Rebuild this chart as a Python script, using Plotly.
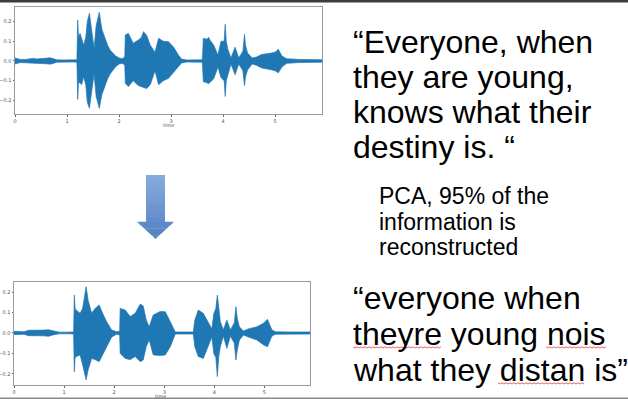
import plotly.graph_objects as go

W, H = 628, 400

# ---- Data: waveform envelopes (time in s, amplitude) ----
orig_t = [0.0, 0.05, 0.1, 0.2, 0.29, 0.35, 0.42, 0.5, 0.6, 0.67, 0.74, 0.8, 0.9, 1.0, 1.1, 1.19,
          1.205, 1.22, 1.25, 1.28, 1.32, 1.36, 1.39, 1.43, 1.47, 1.52, 1.56, 1.6, 1.62, 1.67, 1.73,
          1.78, 1.83, 1.93, 2.0, 2.06, 2.11, 2.12, 2.18, 2.27, 2.37, 2.43, 2.47, 2.53, 2.6, 2.69,
          2.76, 2.85, 2.95, 3.05, 3.14, 3.2, 3.3, 3.45, 3.6, 3.62, 3.69, 3.72, 3.75, 3.82, 3.9,
          3.96, 4.02, 4.04, 4.06, 4.09, 4.15, 4.23, 4.3, 4.38, 4.41, 4.43, 4.47, 4.56, 4.64, 4.74,
          4.85, 4.93, 5.0, 5.06, 5.13, 5.22, 5.45, 5.7, 5.9]
orig_hi = [0.015, 0.012, 0.008, 0.008, 0.012, 0.013, 0.010, 0.013, 0.014, 0.016, 0.012, 0.006,
           0.005, 0.005, 0.005, 0.006, 0.208, 0.12, 0.14, 0.115, 0.08, 0.12, 0.20, 0.242, 0.15,
           0.063, 0.18, 0.23, 0.247, 0.16, 0.115, 0.08, 0.055, 0.026, 0.015, 0.012, 0.02, 0.132,
           0.14, 0.09, 0.106, 0.12, 0.149, 0.13, 0.08, 0.045, 0.115, 0.10, 0.098, 0.07, 0.03, 0.01,
           0.005, 0.005, 0.006, 0.115, 0.11, 0.12, 0.105, 0.08, 0.03, 0.10, 0.10, 0.186, 0.10,
           0.06, 0.015, 0.07, 0.015, 0.05, 0.135, 0.08, 0.04, 0.015, 0.02, 0.033, 0.035, 0.04,
           0.045, 0.06, 0.025, 0.012, 0.008, 0.006, 0.006]
orig_lo = [-0.015, -0.012, -0.008, -0.008, -0.012, -0.013, -0.010, -0.013, -0.014, -0.016, -0.012,
           -0.006, -0.005, -0.005, -0.005, -0.006, -0.195, -0.11, -0.11, -0.12, -0.08, -0.12,
           -0.21, -0.24, -0.15, -0.065, -0.18, -0.22, -0.24, -0.17, -0.13, -0.09, -0.065, -0.03,
           -0.015, -0.012, -0.02, -0.113, -0.13, -0.10, -0.125, -0.13, -0.135, -0.14, -0.12, -0.05,
           -0.12, -0.10, -0.088, -0.06, -0.03, -0.01, -0.005, -0.005, -0.006, -0.105, -0.11,
           -0.115, -0.11, -0.09, -0.03, -0.085, -0.10, -0.18, -0.10, -0.07, -0.015, -0.07, -0.015,
           -0.05, -0.125, -0.08, -0.045, -0.015, -0.022, -0.035, -0.04, -0.045, -0.05, -0.06,
           -0.03, -0.012, -0.008, -0.006, -0.006]

recon_t = [0.0, 0.1, 0.2, 0.29, 0.35, 0.42, 0.49, 0.6, 0.69, 0.8, 0.9, 1.0, 1.1, 1.19, 1.205,
           1.22, 1.25, 1.32, 1.37, 1.44, 1.48, 1.55, 1.62, 1.7, 1.77, 1.85, 1.95, 2.05, 2.11, 2.12,
           2.22, 2.32, 2.42, 2.52, 2.58, 2.64, 2.7, 2.78, 2.92, 3.02, 3.12, 3.22, 3.4, 3.58, 3.61,
           3.68, 3.78, 3.88, 3.95, 3.99, 4.03, 4.06, 4.09, 4.12, 4.18, 4.25, 4.32, 4.4, 4.43, 4.46,
           4.5, 4.58, 4.68, 4.85, 4.98, 5.06, 5.15, 5.22, 5.5, 5.91]
recon_hi = [0.008, 0.008, 0.006, 0.013, 0.013, 0.012, 0.014, 0.014, 0.016, 0.008, 0.004, 0.004,
            0.004, 0.005, 0.185, 0.12, 0.11, 0.096, 0.12, 0.226, 0.16, 0.096, 0.12, 0.137, 0.096,
            0.055, 0.015, 0.006, 0.01, 0.12, 0.112, 0.08, 0.096, 0.141, 0.132, 0.063, 0.03, 0.088,
            0.105, 0.104, 0.055, 0.005, 0.005, 0.005, 0.063, 0.112, 0.096, 0.055, 0.02, 0.096,
            0.12, 0.185, 0.10, 0.055, 0.015, 0.063, 0.015, 0.05, 0.128, 0.07, 0.03, 0.01, 0.02,
            0.03, 0.047, 0.067, 0.015, 0.006, 0.005, 0.005]
recon_lo = [-0.008, -0.008, -0.006, -0.013, -0.013, -0.012, -0.014, -0.014, -0.016, -0.008,
            -0.004, -0.004, -0.004, -0.005, -0.189, -0.12, -0.115, -0.107, -0.155, -0.229, -0.18,
            -0.124, -0.13, -0.14, -0.107, -0.067, -0.02, -0.006, -0.01, -0.10, -0.124, -0.13,
            -0.115, -0.14, -0.132, -0.067, -0.034, -0.107, -0.11, -0.107, -0.067, -0.005, -0.005,
            -0.005, -0.067, -0.115, -0.124, -0.067, -0.02, -0.10, -0.12, -0.213, -0.11, -0.067,
            -0.015, -0.075, -0.015, -0.05, -0.132, -0.08, -0.035, -0.01, -0.02, -0.034, -0.058,
            -0.067, -0.015, -0.006, -0.005, -0.005]

x_tick_vals = [0, 1, 2, 3, 4, 5]
x_tick_text = ["0", "1", "2", "3", "4", "5"]
y_tick_vals = [-0.2, -0.1, 0.0, 0.1, 0.2]
y_tick_text = ["\u22120.2", "\u22120.1", "0.0", "0.1", "0.2"]
x_title = "time"

quote_orig = ["\u201cEveryone, when", "they are young,", "knows what their", "destiny is. \u201c"]
pca_note = ["PCA, 95% of the", "information is", "reconstructed"]
quote_recon = ["\u201ceveryone when", "theyre young nois", "what they distan is\u201d"]

WAVE = "#1f77b4"


def px(x):
    return x / W


def py(y):
    return 1 - y / H


fig = go.Figure()
for t, hi, lo, xa, ya in [(orig_t, orig_hi, orig_lo, "x", "y"),
                          (recon_t, recon_hi, recon_lo, "x2", "y2")]:
    fig.add_trace(go.Scatter(
        x=list(t) + list(t[::-1]), y=list(hi) + list(lo[::-1]),
        fill="toself", fillcolor=WAVE, mode="lines",
        line=dict(color=WAVE, width=0.7), xaxis=xa, yaxis=ya,
        hoverinfo="skip", showlegend=False))

tickfont = dict(family="DejaVu Sans", size=5, color="#555555")
ax_common = dict(showgrid=False, zeroline=False, showline=True, mirror=True,
                 linecolor="#9a9a9a", linewidth=1, ticks="outside", ticklen=1.5,
                 tickcolor="#666666", tickwidth=0.6, tickfont=tickfont, automargin=False)

fig.update_layout(
    width=W, height=H, margin=dict(l=0, r=0, t=0, b=0, pad=0, autoexpand=False),
    paper_bgcolor="white", plot_bgcolor="white", showlegend=False,
    xaxis=dict(domain=[px(15), px(322)], range=[0, 5.9], anchor="y",
               tickvals=x_tick_vals, ticktext=x_tick_text, **ax_common),
    yaxis=dict(domain=[py(114), py(7)], range=[-0.269, 0.274], anchor="x",
               tickvals=y_tick_vals, ticktext=y_tick_text, **ax_common),
    xaxis2=dict(domain=[px(14), px(310)], range=[0, 5.91], anchor="y2",
                tickvals=x_tick_vals, ticktext=x_tick_text, **ax_common),
    yaxis2=dict(domain=[py(385), py(282)], range=[-0.254, 0.249], anchor="x2",
                tickvals=y_tick_vals, ticktext=y_tick_text, **ax_common),
)

# ---- Text blocks ----
annotations = []


def add_lines(lines, x_left, baselines, size):
    for s, b in zip(lines, baselines):
        annotations.append(dict(
            text=s, x=px(x_left), y=py(b - 0.3465 * size), xref="paper", yref="paper",
            xanchor="left", yanchor="middle", showarrow=False, borderpad=0,
            font=dict(family="Liberation Sans, Arial, sans-serif", size=size, color="black")))


add_lines(quote_orig, 352, [53, 88, 123, 158], 32)
add_lines(pca_note, 378, [204, 230, 255], 23)
add_lines(quote_recon, 352, [309, 345, 381], 32)

# x-axis titles ("time") placed under each waveform panel
for cx, cy in [(168, 125.5), (160, 395.5)]:
    annotations.append(dict(text=x_title, x=px(cx), y=py(cy), xref="paper", yref="paper",
                            xanchor="center", yanchor="middle", showarrow=False,
                            borderpad=0, font=tickfont))
fig.update_layout(annotations=annotations)

# ---- Shapes: slide rules, arrow, spell-check squiggles ----
shapes = []
shapes.append(dict(type="line", xref="paper", yref="paper", x0=0, x1=1, y0=py(1.2), y1=py(1.2),
                   line=dict(color="#3c3c3c", width=2.4)))
shapes.append(dict(type="line", xref="paper", yref="paper", x0=0, x1=1, y0=py(398.3), y1=py(398.3),
                   line=dict(color="#8a8a8a", width=1.4)))


def lerp_col(c1, c2, f):
    a = [int(c1[i:i + 2], 16) for i in (1, 3, 5)]
    b = [int(c2[i:i + 2], 16) for i in (1, 3, 5)]
    return "#" + "".join("%02x" % round(a[k] + (b[k] - a[k]) * f) for k in range(3))


# arrow: shaft x 146-165, y 175-222; head x 137-174 from y 222 to tip 239
c_top, c_bot = "#86aade", "#4f7fc0"
n = 8
y0s, y1s = 175, 222
for i in range(n):
    ya = y0s + (y1s - y0s) * i / n
    yb = y0s + (y1s - y0s) * (i + 1) / n + 0.6
    f = (ya - 175) / (239 - 175)
    shapes.append(dict(type="rect", xref="paper", yref="paper", x0=px(146), x1=px(165),
                       y0=py(yb), y1=py(ya), line=dict(width=0),
                       fillcolor=lerp_col(c_top, c_bot, f)))
hn = 5
for i in range(hn):
    ya = 222 + 17 * i / hn
    yb = 222 + 17 * (i + 1) / hn
    wa = 18.5 * (1 - i / hn)
    wb = 18.5 * (1 - (i + 1) / hn)
    f = (ya - 175) / (239 - 175)
    cx = 155.5
    path = "M %f %f L %f %f L %f %f L %f %f Z" % (
        px(cx - wa), py(ya - 0.3), px(cx + wa), py(ya - 0.3),
        px(cx + wb), py(yb), px(cx - wb), py(yb))
    shapes.append(dict(type="path", xref="paper", yref="paper", path=path,
                       line=dict(width=0), fillcolor=lerp_col(c_top, c_bot, f)))


def squiggle(x0, x1, y):
    pts = []
    x = x0
    k = 0
    while x <= x1:
        pts.append((x, y + (1 if k % 2 else -0.2)))
        x += 2
        k += 1
    d = "M " + " L ".join("%f %f" % (px(a), py(b)) for a, b in pts)
    return dict(type="path", xref="paper", yref="paper", path=d,
                line=dict(color="#e03c3c", width=0.8))


shapes.append(squiggle(353, 442, 347))
shapes.append(squiggle(546, 606, 347))
shapes.append(squiggle(498, 584, 383))
fig.update_layout(shapes=shapes)

fig.write_html("out.html", config={"displayModeBar": False},
               post_script="document.body.style.margin='0';document.body.style.overflow='hidden';")
